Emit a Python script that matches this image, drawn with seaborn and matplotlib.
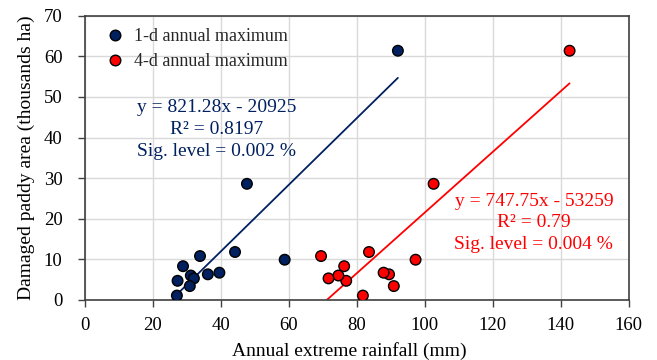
import numpy as np
import pandas as pd
import matplotlib
matplotlib.use("Agg")
import matplotlib.pyplot as plt
import seaborn as sns

# ---------------------------------------------------------
# Data
# ---------------------------------------------------------
damaged_area = [1.06, 4.7, 8.3, 6.0, 5.3, 3.4, 10.8, 6.3, 6.7, 11.8, 28.6, 9.9, 61.4]
rain_1d = [27.1, 27.3, 28.9, 31.2, 32.1, 30.9, 33.9, 36.2, 39.6, 44.2, 47.7, 58.8, 92.1]
rain_4d = [81.8, 76.9, 76.3, 74.6, 71.7, 90.9, 69.5, 89.5, 87.9, 83.6, 102.6, 97.3, 142.6]

series_names = ["1-d annual maximum", "4-d annual maximum"]
series_colors = ["#002060", "#FF0000"]

# trend lines as printed on the chart (ha -> thousands ha)
slopes = [821.28, 747.75]
intercepts = [-20925, -53259]
r2_values = ["0.8197", "0.79"]
sig_levels = ["0.002", "0.004"]

df = pd.DataFrame({
    "rain": rain_1d + rain_4d,
    "area": damaged_area * 2,
    "series": [series_names[0]] * len(rain_1d) + [series_names[1]] * len(rain_4d),
})

# ---------------------------------------------------------
# Plot
# ---------------------------------------------------------
sns.set_theme(style="whitegrid")
plt.rcParams["font.family"] = ["Liberation Serif", "DejaVu Serif"]

fig = plt.figure(figsize=(6.57, 3.6), dpi=100)
ax = fig.add_axes([0.129, 0.167, 0.828, 0.789])

palette = dict(zip(series_names, series_colors))
sns.scatterplot(data=df, x="rain", y="area", hue="series", palette=palette,
                s=58, edgecolor="black", linewidth=1.0, zorder=3, ax=ax)

for i, xs in enumerate([rain_1d, rain_4d]):
    xx = np.array([min(xs), max(xs)])
    yy = (slopes[i] * xx + intercepts[i]) / 1000.0
    ax.plot(xx, yy, color=series_colors[i], lw=1.3, zorder=2)

ax.text(38.8, 42.0,
        f"y = {slopes[0]}x - {abs(intercepts[0])}\nR² = {r2_values[0]}\nSig. level = {sig_levels[0]} %",
        color=series_colors[0], fontsize=14, ha="center", va="center", linespacing=1.35)
ax.text(132.1, 19.0,
        f"y = {slopes[1]}x - {abs(intercepts[1])}\nR² = {r2_values[1]}\nSig. level = {sig_levels[1]} %",
        color=series_colors[1], fontsize=14, ha="center", va="center", linespacing=1.35)

ax.set_xlim(0, 160)
ax.set_ylim(0, 70)
ax.set_xticks(range(0, 161, 20))
ax.set_yticks(range(0, 71, 10))
ax.grid(True, color="#d9d9d9", lw=1.0)
ax.set_axisbelow(True)
for sp in ax.spines.values():
    sp.set_color("#404040")
    sp.set_linewidth(1.2)
ax.tick_params(axis="both", which="major", direction="out", length=5, width=1,
               color="#404040", labelsize=13.5, labelcolor="black",
               left=True, bottom=True)
ax.tick_params(axis="x", pad=7)
ax.tick_params(axis="y", pad=11)

ax.set_xlabel("Annual extreme rainfall (mm)", fontsize=14, color="black", labelpad=6)
ax.xaxis.label.set_x(0.487)
ax.set_ylabel("Damaged paddy area (thousands ha)", fontsize=14, color="black", labelpad=6)

leg = ax.legend(loc="upper left", frameon=False, fontsize=13, handletextpad=0.05,
                borderaxespad=0.4, labelspacing=0.42, markerscale=1.0,
                borderpad=0.3, bbox_to_anchor=(0.0, 1.0))
leg.set_zorder(5)

fig.savefig("out.png", dpi=100)
